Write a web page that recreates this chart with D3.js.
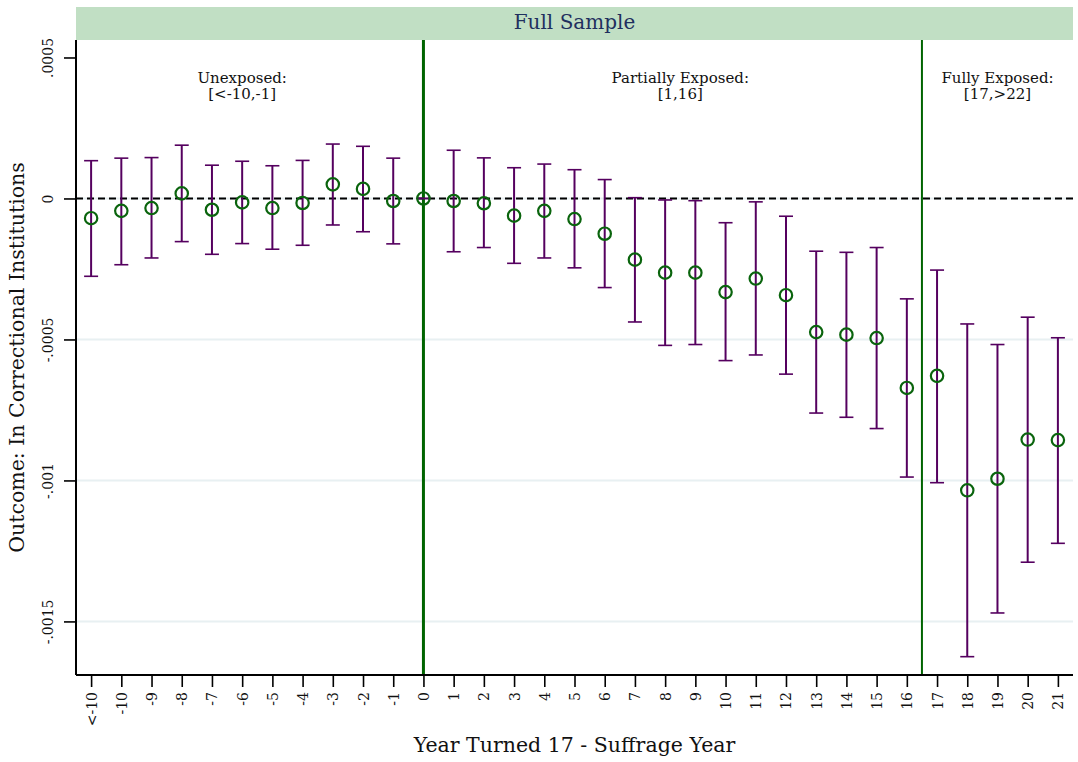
<!DOCTYPE html>
<html>
<head>
<meta charset="utf-8">
<script src="https://cdn.jsdelivr.net/npm/d3@7"></script>
<style>
  body { margin: 0; background: #fff; }
  #chart text { font-family: "DejaVu Serif", serif; fill: #111; }
</style>
</head>
<body>
<div id="chart"></div>
<script>
"use strict";

const categories = ["<-10", "-10", "-9", "-8", "-7", "-6", "-5", "-4", "-3", "-2", "-1", "0",
  "1", "2", "3", "4", "5", "6", "7", "8", "9", "10", "11", "12", "13", "14", "15", "16",
  "17", "18", "19", "20", "21"];

const estimates = [-7.0e-5, -4.4e-5, -3.4e-5, 1.8e-5, -4.0e-5, -1.4e-5, -3.4e-5, -1.6e-5, 5.0e-5, 3.4e-5, -0.9e-5, 0,
  -0.9e-5, -1.7e-5, -6.1e-5, -4.4e-5, -7.3e-5, -1.25e-4, -2.17e-4, -2.63e-4, -2.63e-4, -3.32e-4, -2.84e-4, -3.43e-4,
  -4.74e-4, -4.83e-4, -4.95e-4, -6.72e-4, -6.29e-4, -1.035e-3, -9.94e-4, -8.55e-4, -8.57e-4];

const ciUpper = [1.34e-4, 1.43e-4, 1.45e-4, 1.89e-4, 1.18e-4, 1.32e-4, 1.16e-4, 1.35e-4, 1.93e-4, 1.85e-4, 1.43e-4, 0,
  1.71e-4, 1.44e-4, 1.09e-4, 1.22e-4, 1.02e-4, 6.7e-5, 2.8e-6, -5.3e-6, -7.8e-6, -8.6e-5, -1.2e-5, -6.3e-5,
  -1.87e-4, -1.91e-4, -1.74e-4, -3.56e-4, -2.54e-4, -4.45e-4, -5.18e-4, -4.21e-4, -4.94e-4];

const ciLower = [-2.76e-4, -2.35e-4, -2.11e-4, -1.53e-4, -1.98e-4, -1.60e-4, -1.80e-4, -1.66e-4, -9.4e-5, -1.18e-4, -1.61e-4, 0,
  -1.89e-4, -1.74e-4, -2.30e-4, -2.11e-4, -2.46e-4, -3.16e-4, -4.38e-4, -5.21e-4, -5.18e-4, -5.75e-4, -5.55e-4, -6.23e-4,
  -7.61e-4, -7.76e-4, -8.16e-4, -9.88e-4, -1.008e-3, -1.625e-3, -1.470e-3, -1.290e-3, -1.223e-3];

const yTicks = [0.0005, 0, -0.0005, -0.001, -0.0015];
const yTickLabels = [".0005", "0", "-.0005", "-.001", "-.0015"];
const gridTicks = [0, -0.0005, -0.001, -0.0015];

const regions = [
  { at: "-6", lines: ["Unexposed:", "[<-10,-1]"], shift: 0 },
  { at: "8", lines: ["Partially Exposed:", "[1,16]"], shift: 0.5 },
  { at: "19", lines: ["Fully Exposed:", "[17,>22]"], shift: 0 }
];

const titleText = "Full Sample";
const xTitle = "Year Turned 17 - Suffrage Year";
const yTitle = "Outcome: In Correctional Institutions";

const W = 1078, H = 762;
const plotL = 76, plotR = 1073, plotT = 40, plotB = 675;

const data = categories.map((c, i) => ({ cat: c, est: estimates[i], hi: ciUpper[i], lo: ciLower[i] }));

const svg = d3.select("#chart").append("svg")
  .attr("width", W)
  .attr("height", H);

const x = d3.scalePoint()
  .domain(categories)
  .range([plotL, plotR])
  .padding(0.5);

const y = d3.scaleLinear()
  .domain([-0.00169, 0.000562])
  .range([plotB, plotT]);

// title band
svg.append("rect")
  .attr("x", plotL).attr("y", 7)
  .attr("width", plotR - plotL).attr("height", plotT - 7)
  .attr("fill", "#c1dfc4");
svg.append("text")
  .attr("x", (plotL + plotR) / 2).attr("y", 29)
  .attr("text-anchor", "middle")
  .style("font-size", "20px")
  .style("fill", "#1f2f5e")
  .text(titleText);

// gridlines
svg.append("g")
  .selectAll("line")
  .data(gridTicks)
  .enter()
  .append("line")
  .attr("x1", plotL).attr("x2", plotR)
  .attr("y1", d => y(d)).attr("y2", d => y(d))
  .attr("stroke", "#e8f0f2")
  .attr("stroke-width", 2);

// zero reference line
svg.append("line")
  .attr("x1", plotL).attr("x2", plotR)
  .attr("y1", y(0)).attr("y2", y(0))
  .attr("stroke", "#000")
  .attr("stroke-width", 2)
  .attr("stroke-dasharray", "7,4");

// vertical markers
const step = x.step();
svg.append("line")
  .attr("x1", x("0")).attr("x2", x("0"))
  .attr("y1", plotT).attr("y2", plotB)
  .attr("stroke", "#006400")
  .attr("stroke-width", 3);
svg.append("line")
  .attr("x1", x("16") + step / 2).attr("x2", x("16") + step / 2)
  .attr("y1", plotT).attr("y2", plotB)
  .attr("stroke", "#006400")
  .attr("stroke-width", 2);

// region labels
regions.forEach(r => {
  const t = svg.append("text")
    .attr("x", x(r.at) + r.shift * step)
    .attr("y", 83)
    .attr("text-anchor", "middle")
    .style("font-size", "15px");
  r.lines.forEach((l, i) => {
    t.append("tspan")
      .attr("x", x(r.at) + r.shift * step)
      .attr("dy", i === 0 ? 0 : 16)
      .text(l);
  });
});

// error bars
const purple = "#55005f";
const bars = svg.append("g").selectAll("g")
  .data(data)
  .enter()
  .append("g");
bars.append("line")
  .attr("x1", d => x(d.cat)).attr("x2", d => x(d.cat))
  .attr("y1", d => y(d.hi)).attr("y2", d => y(d.lo))
  .attr("stroke", purple).attr("stroke-width", 2);
bars.append("line")
  .attr("x1", d => x(d.cat) - 7).attr("x2", d => x(d.cat) + 7)
  .attr("y1", d => y(d.hi)).attr("y2", d => y(d.hi))
  .attr("stroke", purple).attr("stroke-width", 1.6);
bars.append("line")
  .attr("x1", d => x(d.cat) - 7).attr("x2", d => x(d.cat) + 7)
  .attr("y1", d => y(d.lo)).attr("y2", d => y(d.lo))
  .attr("stroke", purple).attr("stroke-width", 1.6);

// point estimates
svg.append("g").selectAll("circle")
  .data(data)
  .enter()
  .append("circle")
  .attr("cx", d => x(d.cat))
  .attr("cy", d => y(d.est))
  .attr("r", 6.2)
  .attr("fill", "none")
  .attr("stroke", "#0a640d")
  .attr("stroke-width", 2.2);

// axes
const yAxis = svg.append("g")
  .attr("transform", `translate(${plotL},0)`)
  .call(d3.axisLeft(y).tickValues(yTicks).tickSize(12).tickSizeOuter(0)
    .tickFormat((d, i) => yTickLabels[i]));
yAxis.select(".domain").attr("stroke-width", 2).attr("d", `M0,${plotT}V${plotB}`);
yAxis.selectAll(".tick line").attr("stroke-width", 1.6);
yAxis.selectAll(".tick text")
  .attr("x", 0).attr("y", 0).attr("dy", 0)
  .attr("text-anchor", "middle")
  .attr("transform", "translate(-23,0) rotate(-90)")
  .style("font-size", "14px");

const xAxis = svg.append("g")
  .attr("transform", `translate(0,${plotB})`)
  .call(d3.axisBottom(x).tickSize(12).tickSizeOuter(0));
xAxis.select(".domain").attr("stroke-width", 2).attr("d", `M${plotL},0H${plotR}`);
xAxis.selectAll(".tick line").attr("stroke-width", 1.6);
xAxis.selectAll(".tick text")
  .attr("x", 0).attr("y", 0).attr("dy", 0)
  .attr("text-anchor", "end")
  .attr("transform", "translate(5,17) rotate(-90)")
  .style("font-size", "14px");

svg.selectAll(".domain, .tick line").attr("stroke", "#000");

// axis titles
svg.append("text")
  .attr("x", (plotL + plotR) / 2).attr("y", 752)
  .attr("text-anchor", "middle")
  .style("font-size", "20.5px")
  .text(xTitle);
svg.append("text")
  .attr("transform", `translate(24,${(plotT + plotB) / 2}) rotate(-90)`)
  .attr("text-anchor", "middle")
  .style("font-size", "20.5px")
  .text(yTitle);
</script>
</body>
</html>
